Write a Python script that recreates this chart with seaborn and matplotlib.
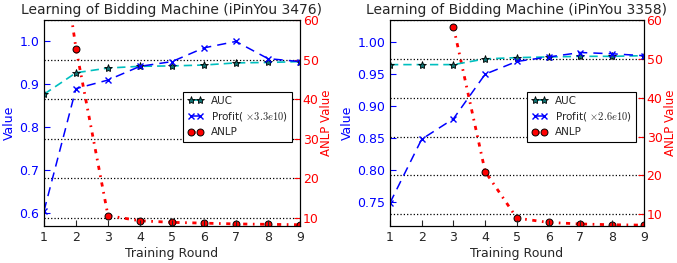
import numpy as np
import pandas as pd
import matplotlib
matplotlib.use("Agg")
import matplotlib.pyplot as plt
import seaborn as sns

sns.set_style("ticks")
plt.rcParams['font.family'] = ['DejaVu Sans']
plt.rcParams['mathtext.fontset'] = 'cm'
plt.rcParams['xtick.direction'] = 'in'
plt.rcParams['ytick.direction'] = 'in'

# data
rounds = [1, 2, 3, 4, 5, 6, 7, 8, 9]

auc_3476 = [0.877, 0.927, 0.938, 0.942, 0.943, 0.945, 0.950, 0.951, 0.953]
profit_3476 = [0.605, 0.890, 0.910, 0.942, 0.953, 0.985, 1.000, 0.960, 0.953]
anlp_3476 = [108.0, 52.8, 10.6, 9.3, 8.9, 8.7, 8.5, 8.4, 8.3]

auc_3358 = [0.965, 0.965, 0.965, 0.974, 0.976, 0.977, 0.978, 0.978, 0.979]
profit_3358 = [0.748, 0.848, 0.880, 0.950, 0.970, 0.977, 0.984, 0.982, 0.979]
anlp_3358 = [np.nan, np.nan, 58.3, 21.0, 9.0, 7.9, 7.5, 7.3, 7.2]

titles = ['Learning of Bidding Machine (iPinYou 3476)',
          'Learning of Bidding Machine (iPinYou 3358)']
profit_scale = [r'Profit( $\times 3.3e10$)', r'Profit( $\times 2.6e10$)']

fig = plt.figure(figsize=(6.77, 2.63), dpi=100)
axes = [fig.add_axes([0.065, 0.141, 0.378, 0.783]),
        fig.add_axes([0.576, 0.141, 0.375, 0.783])]

panels = [
    (auc_3476, profit_3476, anlp_3476, (0.57, 1.05), (8, 60), [0.6, 0.7, 0.8, 0.9, 1.0], '%.1f'),
    (auc_3358, profit_3358, anlp_3358, (0.712, 1.035), (7, 60), [0.75, 0.80, 0.85, 0.90, 0.95, 1.00], '%.2f'),
]

for i, (ax, (auc, profit, anlp, ylim, ylim2, yticks, fmt)) in enumerate(zip(axes, panels)):
    df = pd.DataFrame({'round': rounds, 'AUC': auc, 'Profit': profit, 'ANLP': anlp})
    ax2 = ax.twinx()
    ax2.set_zorder(0)
    ax.set_zorder(1)
    ax.patch.set_visible(False)

    sns.lineplot(data=df, x='round', y='AUC', ax=ax, color='c', linestyle=(0, (5, 3)), lw=1.2,
                 marker='*', markersize=6, markerfacecolor='#107070', markeredgecolor='k',
                 markeredgewidth=0.6, label='AUC', legend=False)
    sns.lineplot(data=df, x='round', y='Profit', ax=ax, color='b', linestyle=(0, (6, 4)), lw=1.1,
                 marker='x', markersize=5, markeredgecolor='b', markeredgewidth=1.0,
                 label=profit_scale[i], legend=False)
    sns.lineplot(data=df, x='round', y='ANLP', ax=ax2, color='r', linestyle=(0, (1.5, 2, 0.6, 2)),
                 lw=2, marker='o', markersize=5, markerfacecolor='r', markeredgecolor='k',
                 markeredgewidth=0.7, label='ANLP', legend=False)

    ax.set_xlim(1, 9)
    ax.set_xticks(rounds)
    ax.set_ylim(*ylim)
    ax.set_yticks(yticks)
    ax.set_yticklabels([fmt % t for t in yticks])
    ax2.set_ylim(*ylim2)
    ax2.set_yticks([10, 20, 30, 40, 50, 60])
    ax2.grid(True, axis='y', linestyle=':', color='k', lw=0.9)

    ax.tick_params(axis='y', colors='b', labelsize=9, length=4)
    ax.tick_params(axis='x', labelsize=9, length=4)
    ax2.tick_params(axis='y', colors='r', labelsize=9, length=4, pad=2)
    for s in ['left', 'right', 'top', 'bottom']:
        ax.spines[s].set_color('k')
        ax2.spines[s].set_color('k')

    ax.set_xlabel('Training Round', fontsize=9, labelpad=2)
    ax.set_ylabel('Value', color='b', fontsize=9, labelpad=2)
    ax2.set_ylabel('ANLP Value', color='r', fontsize=8.5, labelpad=1)
    ax.set_title(titles[i], fontsize=10, pad=4)

    h1, l1 = ax.get_legend_handles_labels()
    h2, l2 = ax2.get_legend_handles_labels()
    leg = ax.legend(h1 + h2, l1 + l2, loc='center right', bbox_to_anchor=(0.99, 0.53),
                    fontsize=7.5, numpoints=2, fancybox=False, framealpha=1,
                    edgecolor='k', handlelength=1.5, borderpad=0.4, labelspacing=0.4)
    leg.get_frame().set_linewidth(0.8)

fig.savefig('out.png', dpi=100)
